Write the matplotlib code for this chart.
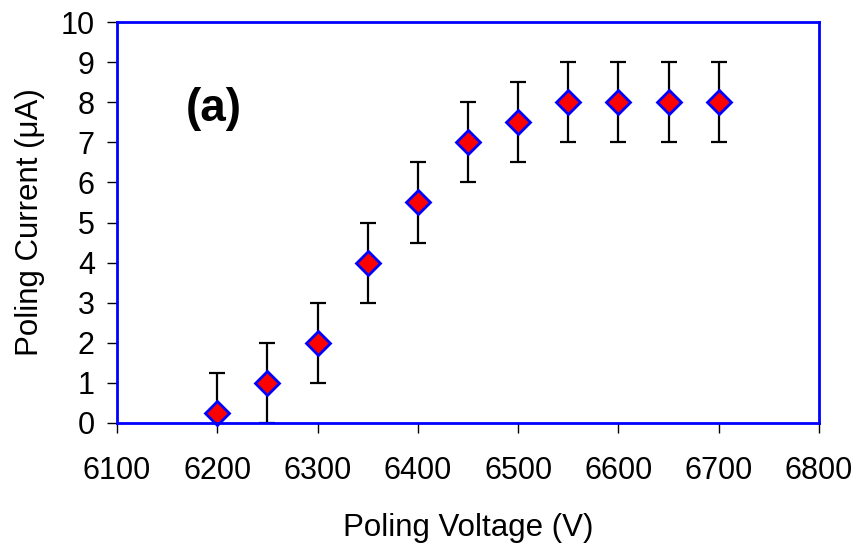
import matplotlib
matplotlib.use("Agg")
import matplotlib.pyplot as plt

voltage = [6200, 6250, 6300, 6350, 6400, 6450, 6500, 6550, 6600, 6650, 6700]
current = [0.25, 1.0, 2.0, 4.0, 5.5, 7.0, 7.5, 8.0, 8.0, 8.0, 8.0]
error = [1.0] * len(voltage)
x_ticks = [6100, 6200, 6300, 6400, 6500, 6600, 6700, 6800]
y_ticks = list(range(0, 11))

plt.rcParams['font.family'] = ['Liberation Sans', 'DejaVu Sans']

fig = plt.figure(figsize=(8.55, 5.45), dpi=100)
ax = fig.add_axes([117/855, 1-423/545, (819-117)/855, (423-22)/545])

ax.errorbar(voltage, current, yerr=error, fmt='none', ecolor='black',
            elinewidth=1.6, capsize=6, capthick=1.6, zorder=2)
ax.plot(voltage, current, linestyle='none', marker='D', markersize=12,
        markerfacecolor='#FF0000', markeredgecolor='#0000FF',
        markeredgewidth=2, zorder=3, clip_on=False)

ax.set_xlim(6100, 6800)
ax.set_ylim(0, 10)
ax.set_xticks(x_ticks)
ax.set_yticks(y_ticks)
ax.tick_params(direction='out', length=7, width=1, colors='black',
               labelsize=22)
ax.tick_params(axis='x', pad=17)
ax.tick_params(axis='y', pad=9)
for s in ax.spines.values():
    s.set_color('#0000FF')
    s.set_linewidth(2)
    s.set_zorder(4)

ax.set_xlabel('Poling Voltage (V)', fontsize=22.5, labelpad=19)
ax.set_ylabel('Poling Current (μA)', fontsize=22.5, labelpad=11)

ax.text(6196, 7.82, '(a)', fontsize=33, fontweight='bold', ha='center', va='center')

fig.savefig('out.png', dpi=100)
